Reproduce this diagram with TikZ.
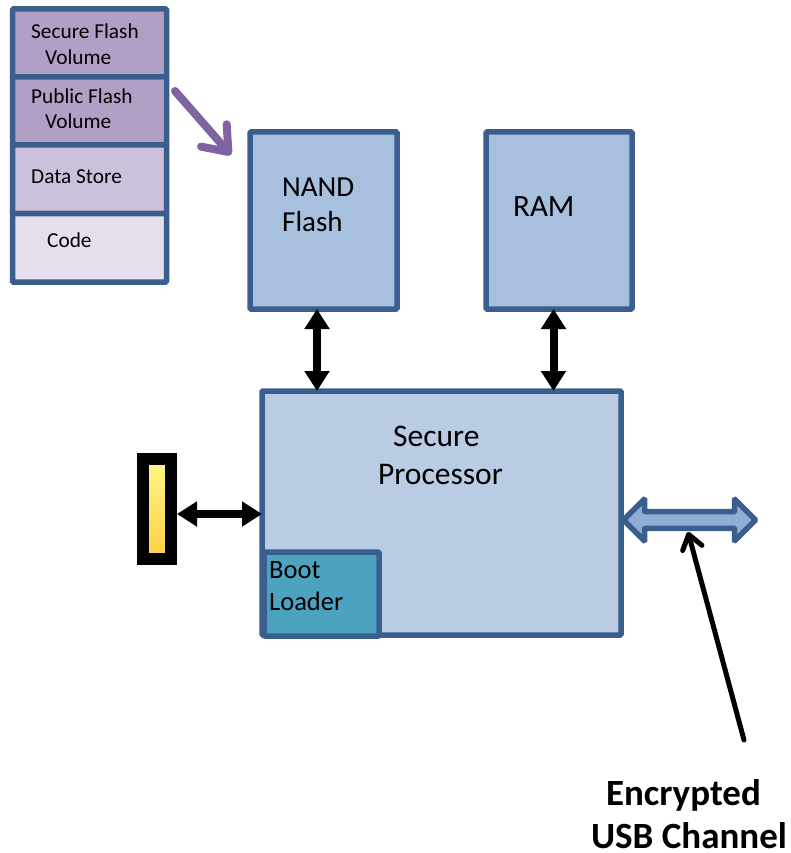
\documentclass[tikz,border=0pt]{standalone}
\usepackage{fontspec}
\setmainfont{Carlito}
\usetikzlibrary{arrows.meta,shapes.arrows,calc}
\definecolor{edgeblue}{HTML}{3A5F8E}
\definecolor{volpurple}{HTML}{B1A0C6}
\definecolor{storepurple}{HTML}{CBC1DB}
\definecolor{codepurple}{HTML}{E5E0EC}
\definecolor{nandblue}{HTML}{A7C0DE}
\definecolor{procblue}{HTML}{B9CCE4}
\definecolor{bootteal}{HTML}{4BA3C0}
\definecolor{usbblue}{HTML}{8FAFD6}
\definecolor{arrowpurple}{HTML}{8064A2}
\definecolor{porttop}{HTML}{FFF58A}
\definecolor{portbottom}{HTML}{FFD040}
\tikzset{
  x=1pt,y=-1pt,
  block/.style={draw=edgeblue,line width=5.5pt,rounded corners=1pt,inner sep=0pt,outer sep=0pt,anchor=north west},
  row/.style={block,minimum width=154pt,minimum height=68.5pt},
  smalltext/.style={font=\fontsize{21.3}{25.5}\selectfont,align=left,anchor=west,inner sep=0pt,text=black},
  bigtext/.style={font=\fontsize{29}{35}\selectfont,align=left,anchor=west,inner sep=0pt,text=black},
  busarrow/.style={line width=8pt,{Triangle[length=20pt,width=24pt]}-{Triangle[length=20pt,width=24pt]},black},
  blackbarb/.style={line width=5pt,black,-{Straight Barb[round,length=14pt,width=20pt,line width=5pt]},line cap=round},
  purplebarb/.style={line width=8pt,arrowpurple,-{Straight Barb[round,length=22pt,width=34pt,line width=8pt]},line cap=round}
}
\begin{document}
\begin{tikzpicture}
\useasboundingbox (0,0) rectangle (790,853);
% memory map
\node[row,fill=volpurple] (secure) at (12.5,9) {};
\node[row,fill=volpurple] (public) at (12.5,77) {};
\node[row,fill=storepurple] (store) at (12.5,145) {};
\node[row,fill=codepurple] (code) at (12.5,213.5) {};
\node[smalltext] (securetxt) at (31,44) {Secure Flash\\\hspace*{14pt}Volume};
\node[smalltext] (publictxt) at (31,108.5) {Public Flash\\\hspace*{14pt}Volume};
\node[smalltext] (storetxt) at (31,177) {Data Store};
\node[smalltext] (codetxt) at (47,240) {Code};
% main blocks
\node[block,fill=nandblue,minimum width=147pt,minimum height=177pt] (nand) at (250,132) {};
\node[block,fill=nandblue,minimum width=146pt,minimum height=177pt] (ram) at (486,132) {};
\node[block,fill=procblue,minimum width=359pt,minimum height=244pt] (proc) at (262,391) {};
\node[block,fill=bootteal,minimum width=115pt,minimum height=84pt] (boot) at (264,552) {};
\node[bigtext] (nandtxt) at (282,205) {NAND\\Flash};
\node[bigtext,font=\fontsize{31}{35}\selectfont] (ramtxt) at (513,207) {RAM};
\node[bigtext,font=\fontsize{31.5}{38}\selectfont,align=left,anchor=west] (proctxt) at (378,455) {\hspace*{15pt}Secure\\Processor};
\node[bigtext,font=\fontsize{26.5}{32}\selectfont] (boottxt) at (269,586) {Boot\\Loader};
% connector
\node[draw=black,line width=12pt,inner sep=0pt,minimum width=28pt,minimum height=100pt,anchor=center,
      top color=porttop,bottom color=portbottom] (port) at (157,509) {};
% USB channel
\node[double arrow,draw=edgeblue,fill=usbblue,line width=5.5pt,rounded corners=1pt,inner sep=0pt,outer sep=0pt,
      minimum height=132pt,minimum width=42pt,double arrow head extend=4.2pt,
      double arrow tip angle=90,
      anchor=center] (usb) at (689.5,520) {};
\node[font=\bfseries\fontsize{37}{43}\selectfont,align=left,inner sep=0pt] (enc) at (689,814.5) {\hspace*{15pt}Encrypted\\USB Channel};
\coordinate (encend) at (744,740);
% connectors
\draw[busarrow] ($(nand.south)+(-6.5,0)$) -- ($(proc.north)+(-124.5,0)$);
\draw[busarrow] ($(ram.south)+(-5.5,0)$) -- ($(proc.north)+(112,0)$);
\draw[busarrow] ($(port.east)+(0,5)$) -- ($(proc.west)+(0,1)$);
\draw[blackbarb] (encend) -- ($(usb.center)+(-1.5,12)$);
\coordinate (purplestart) at (175,91);
\coordinate (purpleend) at (231,155);
\draw[purplebarb] (purplestart) -- (purpleend);
\end{tikzpicture}
\end{document}
